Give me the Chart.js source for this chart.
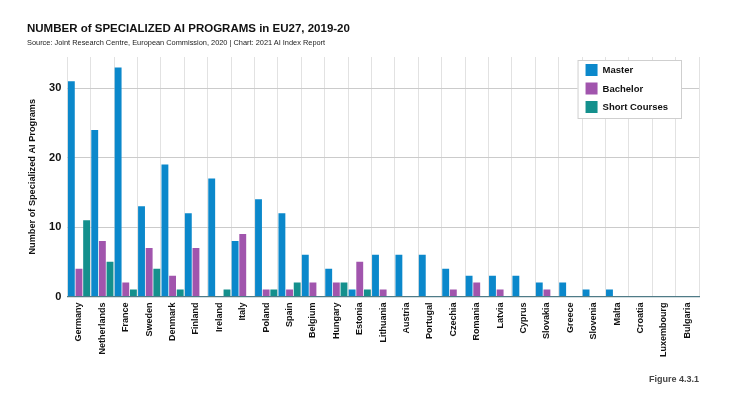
<!DOCTYPE html>
<html>
<head>
<meta charset="utf-8">
<script src="https://cdn.jsdelivr.net/npm/chart.js@4/dist/chart.umd.min.js"></script>
<style>
  html, body { margin: 0; padding: 0; background: #fff; }
  #wrap { position: relative; width: 743px; height: 400px; }
  #title { position: absolute; left: 27px; top: 22px; font: bold 11.5px "Liberation Sans", Arial, sans-serif; color: #111; white-space: nowrap; }
  #source { position: absolute; left: 27px; top: 38px; font: 7.4px "Liberation Sans", Arial, sans-serif; color: #222; white-space: nowrap; }
  #figure { position: absolute; right: 44px; top: 374px; font: bold 9px "Liberation Sans", Arial, sans-serif; color: #444; }
  canvas { position: absolute; left: 0; top: 0; }
</style>
</head>
<body>
<div id="wrap">
  <canvas id="chart" width="743" height="400"></canvas>
  <div id="title">NUMBER of SPECIALIZED AI PROGRAMS in EU27, 2019-20</div>
  <div id="source">Source: Joint Research Centre, European Commission, 2020 | Chart: 2021 AI Index Report</div>
  <div id="figure">Figure 4.3.1</div>
</div>
<script>
var countries = ["Germany", "Netherlands", "France", "Sweden", "Denmark", "Finland", "Ireland", "Italy", "Poland",
  "Spain", "Belgium", "Hungary", "Estonia", "Lithuania", "Austria", "Portugal", "Czechia", "Romania", "Latvia",
  "Cyprus", "Slovakia", "Greece", "Slovenia", "Malta", "Croatia", "Luxembourg", "Bulgaria"];

var master       = [31, 24, 33, 13, 19, 12, 17, 8, 14, 12, 6, 4, 1, 6, 6, 6, 4, 3, 3, 3, 2, 2, 1, 1, 0, 0, 0];
var bachelor     = [4, 8, 2, 7, 3, 7, 0, 9, 1, 1, 2, 2, 5, 1, 0, 0, 1, 2, 1, 0, 1, 0, 0, 0, 0, 0, 0];
var shortCourses = [11, 5, 1, 4, 1, 0, 1, 0, 1, 2, 0, 2, 1, 0, 0, 0, 0, 0, 0, 0, 0, 0, 0, 0, 0, 0, 0];

var yTicks = [0, 10, 20, 30];

var FONT = '"Liberation Sans", Arial, sans-serif';

// legend box drawn inside the plot, top right
var boxLegend = {
  id: 'boxLegend',
  afterDraw: function(chart){
    var ctx = chart.ctx, area = chart.chartArea;
    var sets = chart.data.datasets;
    ctx.save();
    ctx.font = 'bold 9.5px ' + FONT;
    var textW = 0;
    for(var i = 0; i < sets.length; i++){
      textW = Math.max(textW, ctx.measureText(sets[i].label).width);
    }
    var w = 25 + textW + 13, h = 58;
    var x = area.right - 18 - w, y = area.top + 3;
    ctx.fillStyle = '#fff';
    ctx.fillRect(x, y, w, h);
    ctx.strokeStyle = '#cfcfcf';
    ctx.lineWidth = 1;
    ctx.strokeRect(x + 0.5, y + 0.5, w, h);
    ctx.textBaseline = 'middle';
    for(var j = 0; j < sets.length; j++){
      var cy = y + 10 + j * 18.5;
      ctx.fillStyle = sets[j].backgroundColor;
      ctx.fillRect(x + 8, cy - 6, 12, 12);
      ctx.fillStyle = '#111';
      ctx.fillText(sets[j].label, x + 25, cy + 0.5);
    }
    ctx.restore();
  }
};

new Chart(document.getElementById('chart'), {
  type: 'bar',
  data: {
    labels: countries,
    datasets: [
      { label: 'Master', data: master, backgroundColor: '#0b88cb' },
      { label: 'Bachelor', data: bachelor, backgroundColor: '#a155ad' },
      { label: 'Short Courses', data: shortCourses, backgroundColor: '#14908d' }
    ]
  },
  options: {
    responsive: false,
    animation: false,
    devicePixelRatio: 1,
    layout: { padding: { left: 27, right: 44, top: 57, bottom: 37 } },
    datasets: { bar: { categoryPercentage: 0.98, barPercentage: 0.9 } },
    plugins: {
      legend: { display: false },
      tooltip: { enabled: false }
    },
    scales: {
      x: {
        grid: { color: '#e2e2e2', drawTicks: false, offset: true },
        border: { color: '#4f7b87', width: 1.2 },
        ticks: {
          color: '#111',
          font: { family: FONT, size: 9, weight: 'bold' },
          minRotation: 90, maxRotation: 90, autoSkip: false, padding: 6
        }
      },
      y: {
        min: 0,
        max: 34.5,
        afterBuildTicks: function(scale){
          scale.ticks = yTicks.map(function(v){ return { value: v }; });
        },
        grid: { color: '#cbcbcb', drawTicks: false },
        border: { display: false },
        ticks: {
          color: '#111',
          font: { family: FONT, size: 11, weight: 'bold' },
          padding: 6
        },
        title: {
          display: true,
          text: 'Number of Specialized AI Programs',
          color: '#111',
          font: { family: FONT, size: 9.2, weight: 'bold' },
          padding: { top: 0, bottom: 5 }
        }
      }
    }
  },
  plugins: [boxLegend]
});
</script>
</body>
</html>
